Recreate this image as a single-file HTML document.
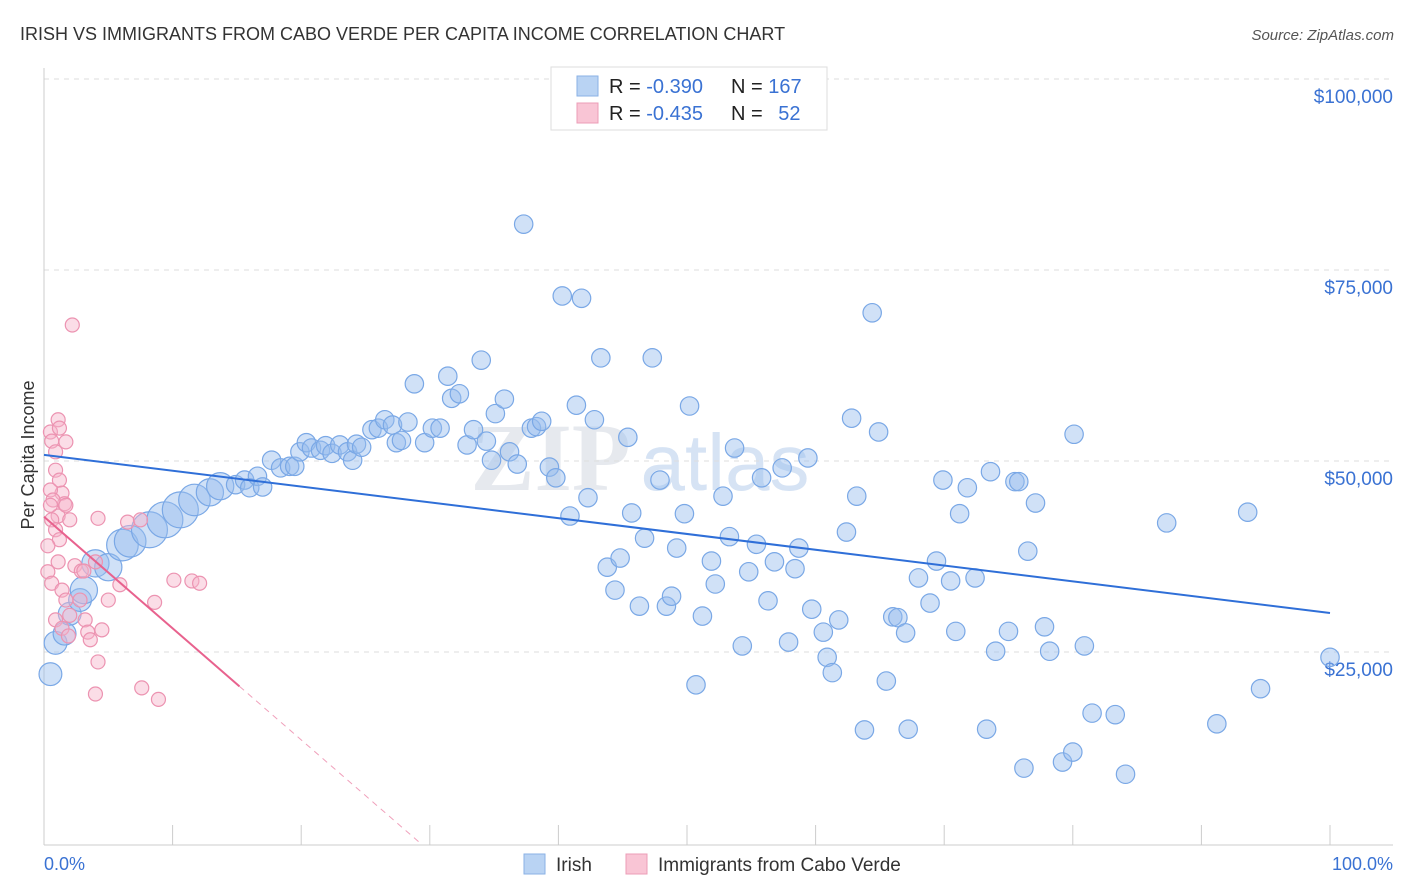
<!DOCTYPE html>
<html><head><meta charset="utf-8">
<style>
body{margin:0;background:#fff;font-family:"Liberation Sans",Arial,sans-serif;}
#wrap{position:relative;width:1406px;height:892px;overflow:hidden;}
svg{position:absolute;left:0;top:0;}
</style></head>
<body>
<div id="wrap">
<svg id="chart" width="1406" height="892">
<text x="20" y="40" font-size="18" fill="#333">IRISH VS IMMIGRANTS FROM CABO VERDE PER CAPITA INCOME CORRELATION CHART</text>
<text x="1394" y="40" font-size="15" fill="#555" text-anchor="end" font-style="italic">Source: ZipAtlas.com</text>
<text x="640" y="490" font-size="96" fill="#e6e9ee" text-anchor="middle" font-family="Liberation Serif,serif" font-weight="bold">ZIP<tspan font-family="Liberation Sans,sans-serif" font-weight="normal" fill="#d6e3f4" font-size="80" dx="10">atlas</tspan></text>
<text x="34" y="455" font-size="18" fill="#333" text-anchor="middle" transform="rotate(-90 34 455)">Per Capita Income</text>
<g id="grid"></g><g id="pts"></g><g id="trend"></g>
<g>
<rect x="551" y="67" width="276" height="63" fill="#fff" stroke="#ddd"/>
<rect x="577" y="76" width="21" height="20" fill="#b9d3f3" stroke="#8ab1e6"/>
<rect x="577" y="103" width="21" height="20" fill="#f9c5d5" stroke="#ec9db7"/>
<text x="609" y="93" font-size="20" fill="#222">R = <tspan fill="#3a72d3">-0.390</tspan></text>
<text x="731" y="93" font-size="20" fill="#222">N = <tspan fill="#3a72d3">167</tspan></text>
<text x="609" y="120" font-size="20" fill="#222">R = <tspan fill="#3a72d3">-0.435</tspan></text>
<text x="731" y="120" font-size="20" fill="#222">N = <tspan fill="#3a72d3" dx="10">52</tspan></text>
</g>
<g>
<rect x="524" y="854" width="21" height="20" fill="#b9d3f3" stroke="#8ab1e6"/>
<text x="556" y="871" font-size="19" fill="#333">Irish</text>
<rect x="626" y="854" width="21" height="20" fill="#f9c5d5" stroke="#ec9db7"/>
<text x="658" y="871" font-size="19" fill="#333">Immigrants from Cabo Verde</text>
</g>
<text x="44" y="870" font-size="18" fill="#3a72d3">0.0%</text>
<text x="1393" y="870" font-size="18" fill="#3a72d3" text-anchor="end">100.0%</text>
</svg>
</div>
<script>
const yTicks=[25000,50000,75000,100000];
const yTickLabels=["$25,000","$50,000","$75,000","$100,000"];
const xTicks=[0,10,20,30,40,50,60,70,80,90,100];
const irishX=[0.5,0.9,1.6,2.0,2.8,3.1,4.0,5.0,6.1,6.7,8.2,9.4,10.6,11.7,12.9,13.7,14.9,15.6,16.0,16.6,17.0,17.7,18.4,19.1,19.5,19.9,20.4,20.8,21.5,21.9,22.4,23.0,23.6,24.0,24.3,24.7,25.5,26.0,26.5,27.1,27.4,27.8,28.3,28.8,29.6,30.2,30.8,31.4,31.7,32.3,32.9,33.4,34.0,34.4,34.8,35.1,35.8,36.2,36.8,37.3,37.9,38.3,38.7,39.3,39.8,40.3,40.9,41.4,41.8,42.3,42.8,43.3,43.8,44.4,44.8,45.4,45.7,46.3,46.7,47.3,47.9,48.4,48.8,49.2,49.8,50.2,50.7,51.2,51.9,52.2,52.8,53.3,53.7,54.3,54.8,55.4,55.8,56.3,56.8,57.4,57.9,58.4,58.7,59.4,59.7,60.6,60.9,61.3,61.8,62.4,62.8,63.2,63.8,64.4,64.9,65.5,66.0,66.4,67.0,67.2,68.0,68.9,69.4,69.9,70.5,70.9,71.2,71.8,72.4,73.3,73.6,74.0,75.0,75.5,75.8,76.2,76.5,77.1,77.8,78.2,79.2,80.0,80.1,80.9,81.5,83.3,84.1,87.3,91.2,93.6,94.6,100.0];
const irishY=[22.1,26.2,27.4,30.0,31.8,33.1,36.6,36.1,39.0,39.5,41.0,42.3,43.6,44.9,45.9,46.7,46.9,47.5,46.5,48.0,46.6,50.1,49.1,49.3,49.3,51.2,52.4,51.7,51.4,52.0,51.0,52.1,51.2,50.1,52.2,51.8,54.1,54.3,55.4,54.7,52.4,52.7,55.1,60.1,52.4,54.3,54.3,61.1,58.2,58.8,52.1,54.1,63.2,52.6,50.1,56.2,58.1,51.2,49.6,81.0,54.3,54.5,55.2,49.2,47.8,71.6,42.8,57.3,71.3,45.2,55.4,63.5,36.1,33.1,37.3,53.1,43.2,31.0,39.9,63.5,47.5,31.0,32.3,38.6,43.1,57.2,20.7,29.7,36.9,33.9,45.4,40.1,51.7,25.8,35.5,39.1,47.8,31.7,36.8,49.1,26.3,35.9,38.6,50.4,30.6,27.6,24.3,22.3,29.2,40.7,55.6,45.4,14.8,69.4,53.8,21.2,29.6,29.5,27.5,14.9,34.7,31.4,36.9,47.5,34.3,27.7,43.1,46.5,34.7,14.9,48.6,25.1,27.7,47.3,47.3,9.8,38.2,44.5,28.3,25.1,10.6,11.9,53.5,25.8,17.0,16.8,9.0,41.9,15.6,43.3,20.2,24.3];
const irishWeight=[2,2,2,2,2,3,3,3,4,4,5,5,5,4,3,3];
const caboX=[0.5,0.6,0.9,1.1,1.2,1.7,0.9,1.2,1.4,1.6,0.5,0.7,1.1,0.6,0.9,1.2,0.3,0.6,1.1,1.4,1.7,2.0,0.9,1.4,1.9,2.2,2.4,2.8,3.2,3.4,3.6,4.0,4.2,4.2,4.0,4.5,5.0,5.9,6.5,7.5,7.6,8.6,8.9,10.1,11.5,12.1,0.3,0.5,1.7,2.0,2.9,3.1];
const caboY=[53.8,52.6,51.2,55.4,54.3,52.5,48.8,47.5,45.8,44.4,46.2,44.9,42.8,42.3,41.0,39.7,35.5,34.0,36.8,33.1,31.8,29.8,29.2,28.1,27.1,67.8,36.3,31.8,29.2,27.6,26.6,36.8,42.5,23.7,19.5,27.9,31.8,33.8,42.0,42.3,20.3,31.5,18.8,34.4,34.3,34.0,38.9,44.2,44.2,42.3,35.6,35.6];
const irishTrend=[50.8,-0.207];
const caboTrend=[42.7,-1.46];
const caboSolidEnd=15.2;

const NS="http://www.w3.org/2000/svg";
const X0=44,X1=1330,Y0=843,Y100=79;
const sx=v=>X0+(X1-X0)*v/100;
const sy=v=>Y0-(Y0-Y100)*v/100000;
function mk(tag,attrs,parent){const e=document.createElementNS(NS,tag);for(const k in attrs)e.setAttribute(k,attrs[k]);parent.appendChild(e);return e;}
const grid=document.getElementById('grid'),pts=document.getElementById('pts'),tr=document.getElementById('trend');
yTicks.forEach((t,i)=>{
  const l=mk('line',{x1:44,x2:1393,y1:sy(t),y2:sy(t),stroke:'#dedede','stroke-dasharray':'5,5'},grid);
  
  
  const tx=mk('text',{x:1393,y:sy(t)+24,'font-size':19,fill:'#3a72d3','text-anchor':'end'},grid);
  tx.textContent=yTickLabels[i];
  
  
});
const ax=mk('line',{x1:44,x2:1393,y1:845,y2:845,stroke:'#ccc'},grid);


const ay=mk('line',{x1:44,x2:44,y1:68,y2:845,stroke:'#ccc'},grid);


xTicks.forEach(t=>{
  const l=mk('line',{x1:sx(t),x2:sx(t),y1:825,y2:845,stroke:'#ccc'},grid);
  
  
});
irishX.forEach((x,i)=>{
  const w=irishWeight[i]||1;
  const c=mk('circle',{cx:sx(x),cy:sy(irishY[i]*1000),r:7+w*2.2,fill:'rgba(150,188,238,0.45)',stroke:'#7aa8e6','stroke-width':1.2},pts);
  
  
});
caboX.forEach((x,i)=>{
  const c=mk('circle',{cx:sx(x),cy:sy(caboY[i]*1000),r:7,fill:'rgba(246,180,202,0.45)',stroke:'#ec93b1','stroke-width':1.2},pts);
  
  
});
const f=(tp,x)=>(tp[0]+tp[1]*x)*1000;
const l1=mk('line',{x1:sx(0),y1:sy(f(irishTrend,0)),x2:sx(100),y2:sy(f(irishTrend,100)),stroke:'#2f6fd8','stroke-width':2},tr);


const l2=mk('line',{x1:sx(0),y1:sy(f(caboTrend,0)),x2:sx(caboSolidEnd),y2:sy(f(caboTrend,caboSolidEnd)),stroke:'#e8628e','stroke-width':2},tr);


const xz=-caboTrend[0]/caboTrend[1];
const l3=mk('line',{x1:sx(caboSolidEnd),y1:sy(f(caboTrend,caboSolidEnd)),x2:sx(xz),y2:sy(0),stroke:'#f0a0bb','stroke-width':1,'stroke-dasharray':'6,5'},tr);


</script>
</body></html>
